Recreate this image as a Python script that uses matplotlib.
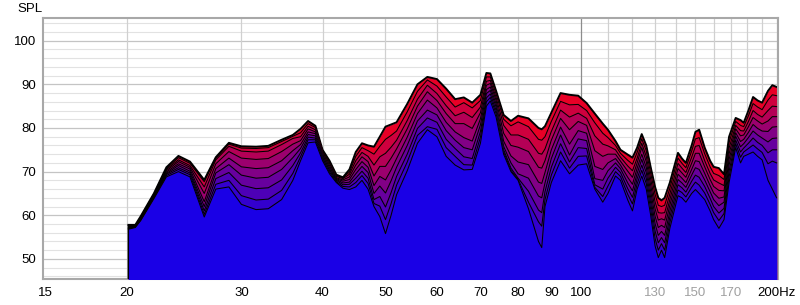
import numpy as np
import matplotlib
matplotlib.use("Agg")
import matplotlib.pyplot as plt

plt.rcParams['font.family'] = ['Liberation Sans', 'DejaVu Sans']

# Waterfall slices (dB SPL), slice_0 = first (back, red) ... slice_8 = last (front, blue)
freqs = [20.1, 20.6, 21, 22, 23, 24, 25, 26.3, 27.4, 28.7,
         30, 31.6, 33, 34.6, 36, 37, 38, 39, 40, 41,
         42, 43, 44, 45, 46, 47, 48, 49, 50, 51,
         52, 54, 56, 58, 60, 62, 64, 66, 68, 70,
         71.5, 72.5, 74, 76, 78, 80, 83, 86, 87, 88,
         90, 93, 96, 99, 102, 105, 108, 110, 113, 115,
         118, 120, 122, 124, 126, 128, 130, 131.5, 133, 134.5,
         137, 141, 143, 145, 148, 150, 152, 155, 158, 160,
         163, 166, 169, 173, 176, 178, 181, 184, 187, 190,
         194, 197, 200]

slice_0 = [57.8, 57.8, 59.8, 65.0, 71.0, 73.6, 72.3, 68.1, 73.3, 76.6,
           75.8, 75.7, 75.9, 77.3, 78.4, 79.8, 81.6, 80.5, 75.0, 72.5,
           69.3, 68.7, 70.5, 74.5, 76.5, 76.0, 75.7, 78.0, 80.3, 80.8,
           81.3, 85.5, 90.0, 91.7, 91.2, 89.0, 86.6, 87.0, 85.8, 87.6,
           92.6, 92.5, 88.5, 83.0, 81.6, 82.8, 82.2, 80.0, 79.7, 80.4,
           83.5, 88.0, 87.6, 87.4, 85.7, 83.3, 81.0, 79.6, 77.0, 75.0,
           73.9, 73.2, 75.5, 78.6, 76.0, 71.0, 66.5, 64.0, 63.4, 64.0,
           67.5, 74.3, 73.0, 72.0, 76.0, 79.1, 79.6, 75.5, 72.5, 71.1,
           70.8, 69.4, 78.0, 82.3, 81.8, 81.2, 84.0, 87.1, 86.3, 85.8,
           88.5, 89.8, 89.4]
slice_1 = [57.7, 57.7, 59.7, 64.9, 70.7, 73.2, 71.9, 67.7, 73.1, 76.3,
           75.4, 75.3, 75.5, 76.9, 78.1, 78.9, 81.0, 80.1, 74.7, 72.1,
           69.1, 68.6, 69.9, 73.5, 75.5, 74.8, 74.0, 75.8, 77.4, 78.3,
           79.3, 83.7, 88.4, 91.0, 89.6, 87.1, 84.8, 85.8, 84.6, 86.3,
           91.7, 91.7, 87.8, 82.0, 80.5, 81.4, 80.3, 77.4, 77.2, 78.0,
           81.5, 86.1, 85.3, 85.4, 84.0, 81.2, 78.8, 77.8, 76.0, 74.2,
           72.6, 71.7, 74.4, 77.5, 74.8, 69.6, 64.8, 62.3, 62.0, 62.3,
           66.2, 73.1, 71.9, 70.9, 74.7, 77.5, 77.8, 74.1, 71.1, 69.6,
           69.1, 68.2, 76.7, 81.5, 80.6, 80.3, 82.8, 85.6, 84.8, 84.2,
           86.4, 87.6, 87.4]
slice_2 = [57.5, 57.6, 59.5, 64.7, 70.5, 72.7, 71.4, 66.5, 72.7, 75.8,
           74.7, 74.5, 74.7, 76.2, 77.6, 78.0, 80.4, 79.6, 74.4, 71.8,
           68.9, 68.4, 69.4, 72.5, 74.4, 73.5, 71.5, 73.4, 74.2, 75.6,
           77.2, 81.7, 86.6, 89.8, 87.9, 85.1, 82.8, 83.6, 82.4, 84.8,
           90.7, 90.9, 87.0, 80.6, 78.4, 78.4, 77.4, 74.2, 74.0, 75.2,
           79.2, 84.1, 82.5, 83.4, 82.2, 78.2, 76.3, 75.9, 75.0, 73.3,
           71.3, 70.2, 73.1, 76.5, 73.5, 68.3, 63.1, 60.6, 60.5, 60.6,
           64.9, 71.9, 70.8, 69.8, 73.3, 75.8, 76.0, 72.5, 69.6, 68.1,
           67.4, 66.8, 75.4, 80.6, 79.4, 79.3, 81.5, 84.0, 83.1, 82.5,
           84.0, 85.0, 84.9]
slice_3 = [57.4, 57.6, 59.4, 64.6, 70.2, 72.3, 71.0, 65.0, 71.8, 74.6,
           73.1, 72.8, 73.0, 74.6, 76.3, 77.1, 79.8, 79.1, 74.1, 71.4,
           68.6, 68.1, 68.8, 71.5, 73.4, 72.3, 69.0, 71.2, 71.2, 73.1,
           75.2, 79.8, 85.0, 88.3, 86.3, 83.3, 81.0, 81.0, 79.9, 83.5,
           89.8, 90.2, 86.3, 78.8, 76.0, 75.6, 74.6, 71.0, 70.8, 72.5,
           77.2, 82.2, 79.6, 81.5, 80.6, 74.8, 73.5, 74.0, 74.0, 72.4,
           70.1, 68.7, 72.0, 75.5, 72.3, 66.9, 61.5, 58.9, 59.2, 58.9,
           63.6, 70.7, 69.7, 68.7, 71.9, 74.2, 74.2, 71.1, 68.2, 66.6,
           65.7, 65.6, 74.1, 79.8, 78.2, 78.4, 80.3, 82.4, 81.6, 80.9,
           81.6, 82.6, 82.6]
slice_4 = [57.3, 57.5, 59.3, 64.4, 69.9, 71.8, 70.6, 63.1, 70.7, 73.1,
           71.1, 70.7, 70.9, 72.5, 74.8, 76.2, 79.1, 78.7, 73.8, 71.0,
           68.4, 67.8, 68.2, 70.5, 72.3, 71.0, 66.8, 68.9, 68.1, 70.4,
           73.0, 77.9, 83.3, 86.4, 84.6, 81.3, 79.1, 77.8, 77.0, 82.1,
           88.8, 89.4, 85.5, 77.0, 73.6, 72.2, 71.6, 67.6, 67.3, 69.8,
           75.0, 80.2, 76.3, 79.4, 78.8, 71.2, 70.5, 72.0, 73.0, 71.5,
           68.7, 67.1, 70.8, 74.0, 71.0, 65.5, 59.8, 57.2, 57.7, 57.2,
           62.3, 69.4, 68.5, 67.5, 70.5, 72.5, 72.3, 69.6, 66.8, 65.1,
           63.9, 64.2, 72.8, 78.9, 76.9, 77.4, 79.0, 80.8, 79.9, 79.3,
           79.2, 80.2, 80.3]
slice_5 = [57.2, 57.4, 59.2, 64.3, 69.6, 71.4, 70.1, 62.0, 69.7, 71.6,
           69.2, 68.5, 68.7, 70.5, 73.2, 75.3, 78.5, 78.2, 73.5, 70.6,
           68.2, 67.4, 67.6, 69.5, 71.2, 69.8, 65.0, 66.7, 65.1, 67.9,
           71.0, 76.0, 81.6, 84.1, 83.0, 79.4, 77.2, 75.5, 75.0, 80.7,
           87.9, 88.6, 84.8, 75.8, 72.0, 69.5, 68.5, 64.4, 64.0, 67.4,
           73.0, 78.4, 73.8, 77.5, 77.1, 68.4, 68.0, 70.2, 72.0, 70.7,
           67.4, 65.6, 69.6, 72.8, 69.8, 64.1, 58.1, 55.4, 56.3, 55.4,
           60.9, 68.2, 67.4, 66.4, 69.2, 70.9, 70.5, 68.1, 65.4, 63.6,
           62.2, 63.0, 71.5, 78.1, 75.7, 76.4, 77.8, 79.3, 78.4, 77.7,
           76.8, 77.6, 77.7]
slice_6 = [57.0, 57.4, 59.0, 64.1, 69.4, 70.9, 69.7, 61.0, 68.4, 69.8,
           66.9, 66.1, 66.3, 68.1, 71.4, 74.3, 77.9, 77.7, 73.1, 70.3,
           68.0, 67.0, 67.1, 68.5, 70.1, 68.5, 63.6, 64.3, 61.9, 65.2,
           68.9, 74.0, 79.9, 82.3, 81.3, 77.4, 75.3, 73.4, 73.0, 79.2,
           86.9, 87.8, 84.0, 75.0, 70.8, 68.5, 65.5, 61.2, 60.6, 65.4,
           71.0, 76.4, 72.2, 75.5, 75.3, 67.0, 66.0, 68.5, 71.0, 69.8,
           66.1, 64.1, 68.4, 71.5, 68.5, 62.8, 56.4, 53.7, 54.9, 53.7,
           59.6, 67.0, 66.3, 65.3, 67.8, 69.2, 68.7, 66.6, 63.9, 62.0,
           60.5, 61.6, 70.1, 77.2, 74.5, 75.4, 76.5, 77.7, 76.7, 76.0,
           74.3, 75.0, 75.0]
slice_7 = [56.9, 57.3, 58.9, 64.0, 69.1, 70.5, 69.3, 60.2, 67.1, 68.0,
           64.5, 63.5, 63.7, 65.7, 69.6, 73.4, 77.3, 77.3, 72.8, 69.9,
           67.7, 66.6, 66.5, 67.5, 69.1, 67.3, 62.7, 62.1, 59.0, 62.7,
           66.9, 72.2, 78.3, 80.3, 79.7, 75.5, 73.5, 71.6, 71.5, 77.9,
           86.0, 87.0, 83.3, 74.5, 70.3, 68.2, 63.0, 58.5, 57.5, 63.6,
           69.2, 74.5, 70.8, 73.5, 73.6, 66.4, 64.3, 66.7, 70.0, 68.9,
           64.8, 62.6, 67.2, 70.3, 67.3, 61.4, 54.7, 52.0, 53.5, 52.0,
           58.3, 65.8, 65.2, 64.2, 66.4, 67.6, 66.9, 65.1, 62.5, 60.6,
           58.8, 60.4, 68.8, 76.4, 73.3, 74.5, 75.3, 76.1, 75.2, 74.4,
           71.8, 72.4, 72.0]
slice_8 = [56.8, 57.2, 58.8, 63.8, 68.8, 70.0, 68.8, 59.6, 66.0, 66.5,
           62.5, 61.3, 61.5, 63.6, 68.0, 72.5, 76.6, 76.8, 72.5, 69.5,
           67.5, 66.2, 65.9, 66.5, 68.0, 66.0, 62.0, 59.7, 55.8, 60.0,
           64.7, 70.2, 76.5, 79.6, 78.0, 73.5, 71.5, 70.4, 70.5, 76.5,
           85.0, 86.2, 82.5, 74.0, 70.0, 68.0, 61.5, 54.0, 52.6, 62.0,
           67.5, 72.5, 69.5, 71.5, 71.8, 66.0, 63.0, 65.0, 69.0, 68.0,
           63.5, 61.0, 66.0, 69.0, 66.0, 60.0, 53.0, 50.3, 52.0, 50.3,
           57.0, 64.5, 64.0, 63.0, 65.0, 65.9, 65.0, 63.6, 61.0, 59.0,
           57.0, 59.0, 67.5, 75.5, 72.0, 73.5, 74.0, 74.5, 73.5, 72.7,
           68.0, 66.0, 64.0]

slices = [slice_0, slice_1, slice_2, slice_3, slice_4, slice_5, slice_6, slice_7, slice_8]

xticks = [15, 20, 30, 40, 50, 60, 70, 80, 90, 100, 130, 150, 170, 200]
xlabels = ['15', '20', '30', '40', '50', '60', '70', '80', '90', '100', '130', '150', '170', '200Hz']
yticks = [50, 60, 70, 80, 90, 100]

# Figure: 800x305 px
fig = plt.figure(figsize=(8, 3.05), dpi=100)
ax = fig.add_axes([43 / 800, 26 / 305, 735 / 800, 261 / 305])
ax.set_xscale('log')
ax.set_xlim(14.85, 201)
ax.set_ylim(45.4, 105.2)

# grid
for yv in np.arange(46, 106, 2):
    if yv % 10 == 0:
        ax.axhline(yv, color='#c4c4c4', lw=0.9, zorder=0)
    else:
        ax.axhline(yv, color='#e2e2e2', lw=0.8, zorder=0)
for fv in range(20, 201, 10):
    col = '#8c8c8c' if fv == 100 else '#d0d0d0'
    ax.axvline(fv, color=col, lw=0.9, zorder=0)

# slices, back (red) to front (blue)
red = np.array([0.91, 0.0, 0.15])
blue = np.array([0.10, 0.0, 0.90])
n = len(slices)
for i, s in enumerate(slices):
    t = i / (n - 1)
    c = red * (1 - t) + blue * t
    ax.fill_between(freqs, s, 40, color=c, lw=0, zorder=2 + i)
    ax.plot(freqs, s, color='black', lw=1.4 if i == 0 else 0.75,
            solid_joinstyle='round', zorder=2 + i)
    ax.plot([freqs[0], freqs[0]], [40, s[0]], color='black', lw=0.8, zorder=2 + i)

# ticks and labels
ax.set_xticks(xticks)
ax.set_xticklabels(xlabels)
ax.xaxis.set_minor_locator(matplotlib.ticker.NullLocator())
ax.set_yticks(yticks)
ax.tick_params(axis='both', length=0, labelsize=9.5, colors='black')
ax.tick_params(axis='x', pad=6)
ax.tick_params(axis='y', pad=5)
for lab in ax.get_xticklabels():
    if lab.get_text() in ('130', '150', '170'):
        lab.set_color('#a0a0a0')

for sp in ax.spines.values():
    sp.set_color('#a8a8a8')
    sp.set_linewidth(1.5)

fig.text(17 / 800, 1 - 9 / 305, 'SPL', fontsize=9.5, va='center', ha='left')

fig.savefig('out.png', dpi=100, facecolor='white')
